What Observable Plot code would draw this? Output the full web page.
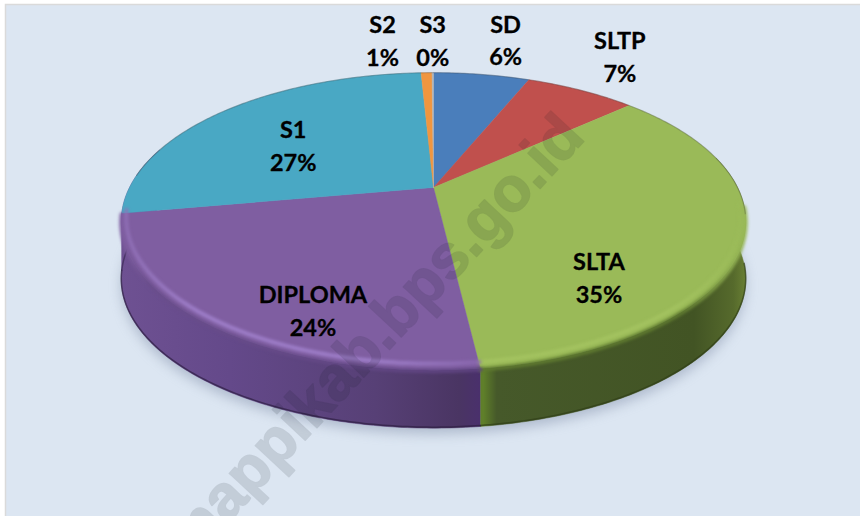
<!DOCTYPE html>
<html>
<head>
<meta charset="utf-8">
<script src="https://cdn.jsdelivr.net/npm/d3@7"></script>
<script src="https://cdn.jsdelivr.net/npm/@observablehq/plot@0.6"></script>
<style>html,body{margin:0;padding:0;background:#fff}svg{display:block}</style>
</head>
<body>
<div id="chart"></div>
<script>
// Data, clockwise from twelve o'clock
const names  = ["SD", "SLTP", "SLTA", "DIPLOMA", "S1", "S2", "S3"];
const shares = [6.2, 7.1, 34.8, 24.1, 27.0, 0.7, 0.1];

// Styles
const faceColors = ["#4A7EBB", "#C0504D", "#9ABA58", "#7F5EA1", "#49A8C4", "#F0963F", "#B5B5B5"];
const wallColors = ["#2c4a70", "#70302e", "url(#wallGreen)", "url(#wallPurple)", "url(#wallPurple)", "#a0622a", "#777"];
const rimColors  = [null, null, "url(#rimGreen)", "url(#rimPurple)", null, null, null];
const lipColors  = [null, null, "url(#lipGreen)", "url(#lipPurple)", null, null, null];
const edgeColors = [null, null, "#303F18", "#2E1F42", "#3a2a55", null, null];
const labelShift = [[24,-36],[39,-35],[-144,35],[101,-17],[68,33],[-44,-34],[0,-34]];
const watermark = "mappikab.bps.go.id";

// View of the tilted disc
const W = 860, H = 516, cx = 433, cy = 187, A = 304, B = 141, K = 0.228, depth = 58;
const project = (t, drop = 0, r = 1) => {
  const u = Math.sin(t) * r, v = Math.cos(t) * r, d = 1 + K * v;
  return {x: cx + A * u / d, y: cy - B * v / d + drop};
};

const total = d3.sum(shares);
let run = 0;
const slices = names.map((name, i) => {
  const a0 = run / total * 2 * Math.PI;
  run += shares[i];
  const a1 = run / total * 2 * Math.PI;
  return {name, i, a0, a1, mid: (a0 + a1) / 2, pct: Math.round(shares[i] / total * 100)};
});
const arc = (a0, a1, drop = 0, r = 1) => {
  const n = Math.max(2, Math.ceil((a1 - a0) * 80));
  return d3.range(n + 1).map(k => project(a0 + (a1 - a0) * k / n, drop, r));
};
const apex = project(0, 0, 0);
const front = s => [Math.max(s.a0, 1.7), Math.min(s.a1, 4.95)];
const isFront = s => s.a1 > 1.7 && s.a0 < 4.95;

const defs = () => {
  const d = d3.create("svg:defs");
  const grad = (id, x1, x2, stops) => {
    const g = d.append("linearGradient").attr("id", id).attr("gradientUnits", "userSpaceOnUse")
      .attr("x1", x1).attr("x2", x2).attr("y1", 0).attr("y2", 0);
    stops.forEach(([o, c]) => g.append("stop").attr("offset", o).attr("stop-color", c));
  };
  grad("wallPurple", 120, 484, [[0, "#6E5192"], [0.3, "#64498A"], [0.7, "#574076"], [0.93, "#4A3563"], [1, "#4A2F6E"]]);
  grad("wallGreen", 483, 746, [[0, "#5F7F2A"], [0.05, "#46592A"], [0.8, "#425424"], [0.95, "#566A2C"], [1, "#6A8034"]]);
  grad("lipGreen", 483, 746, [[0, "#5F7A30"], [0.75, "#5F7A30"], [1, "#9ABA58"]]);
  grad("lipPurple", 120, 484, [[0, "#7F5EA1"], [0.08, "#6A4E8C"], [1, "#5E4380"]]);
  grad("rimGreen", 483, 746, [[0, "#A6C562"], [0.7, "#A6C562"], [1, "#9ABA58"]]);
  grad("rimPurple", 120, 484, [[0, "#8F6FB5"], [0.2, "#A585D2"], [0.7, "#A585D2"], [1, "#8A68B0"]]);
  return d.node();
};

const pX = {x: "x", y: "y"};
const marks = [
  defs,
  Plot.rect([0], {x1: () => 5.5, x2: () => W + 4, y1: () => 4.5, y2: () => H + 4, fill: "#DCE6F2", stroke: "#DADADA", strokeWidth: 1.5}),
  // soft shadow beneath the disc
  Plot.line(arc(0, 2 * Math.PI, depth + 6), {...pX, fill: "#7d8aa5", fillOpacity: 0.45, stroke: "none", imageFilter: "blur(6px)"}),
  // walls (the upper parts are covered by the faces)
  ...slices.filter(s => s.a1 > 1.35 && s.a0 < 5.0).map(s => {
    const a0 = Math.max(s.a0, 1.35), a1 = Math.min(s.a1, 5.0);
    return Plot.line([...arc(a0, a1), ...arc(a0, a1, depth).reverse()], {...pX, fill: wallColors[s.i], stroke: wallColors[s.i], strokeWidth: 0.5});
  }),
  // dark lower edge of the walls
  ...slices.filter(s => edgeColors[s.i] && isFront(s)).map(s => {
    const [a0, a1] = front(s);
    return Plot.line(arc(a0, a1, depth - 1), {...pX, stroke: edgeColors[s.i], strokeWidth: 1.5, strokeOpacity: 0.7, imageFilter: "blur(0.7px)"});
  }),
  // top faces
  ...slices.map(s => Plot.line([apex, ...arc(s.a0, s.a1), apex], {...pX, fill: faceColors[s.i], stroke: faceColors[s.i], strokeWidth: 0.4})),
  // soft lip between face and wall
  ...slices.filter(s => lipColors[s.i] && isFront(s)).map(s => {
    const [a0, a1] = front(s);
    return Plot.line(arc(a0, a1, 1), {...pX, stroke: lipColors[s.i], strokeWidth: 4, imageFilter: "blur(1.5px)"});
  }),
  // bevel highlight just inside the front rim
  ...slices.filter(s => rimColors[s.i] && isFront(s)).map(s => {
    const [a0, a1] = front(s);
    return Plot.line(arc(a0, a1, -3, 0.985), {...pX, stroke: rimColors[s.i], strokeWidth: 4, strokeOpacity: 0.8, imageFilter: "blur(1.8px)"});
  }),
  // thin dark edge on the far side of the disc
  Plot.line(arc(4.8, 2 * Math.PI + 1.75), {...pX, stroke: "#3a3a3a", strokeOpacity: 0.28, strokeWidth: 1.2, imageFilter: "blur(0.5px)"}),
  // watermark
  Plot.text([watermark], {
    x: () => 586, y: () => 138, text: d => d, rotate: -47, textAnchor: "end", lineAnchor: "bottom",
    fontFamily: "'Liberation Sans', sans-serif", fontWeight: 700, fontSize: 62,
    fill: "#101820", stroke: "#101820", strokeWidth: 1.6, opacity: 0.12, imageFilter: "blur(0.7px)"
  }),
  // labels
  Plot.text(slices, {
    x: s => project(s.mid).x + labelShift[s.i][0],
    y: s => project(s.mid).y + labelShift[s.i][1],
    text: s => `${s.name}\n${s.pct}%`,
    lineHeight: 1.4, lineAnchor: "middle",
    fontFamily: "Lato, 'Open Sans', sans-serif", fontWeight: 700, fontSize: 23.5, fill: "#000",
    stroke: "#000", strokeWidth: 0.3
  })
];

const chart = Plot.plot({
  width: W, height: H, margin: 0,
  x: {domain: [0, W], range: [0, W], axis: null},
  y: {domain: [0, H], range: [0, H], axis: null},
  style: {background: "#fff"},
  marks
});
document.getElementById("chart").appendChild(chart);
</script>
</body>
</html>
